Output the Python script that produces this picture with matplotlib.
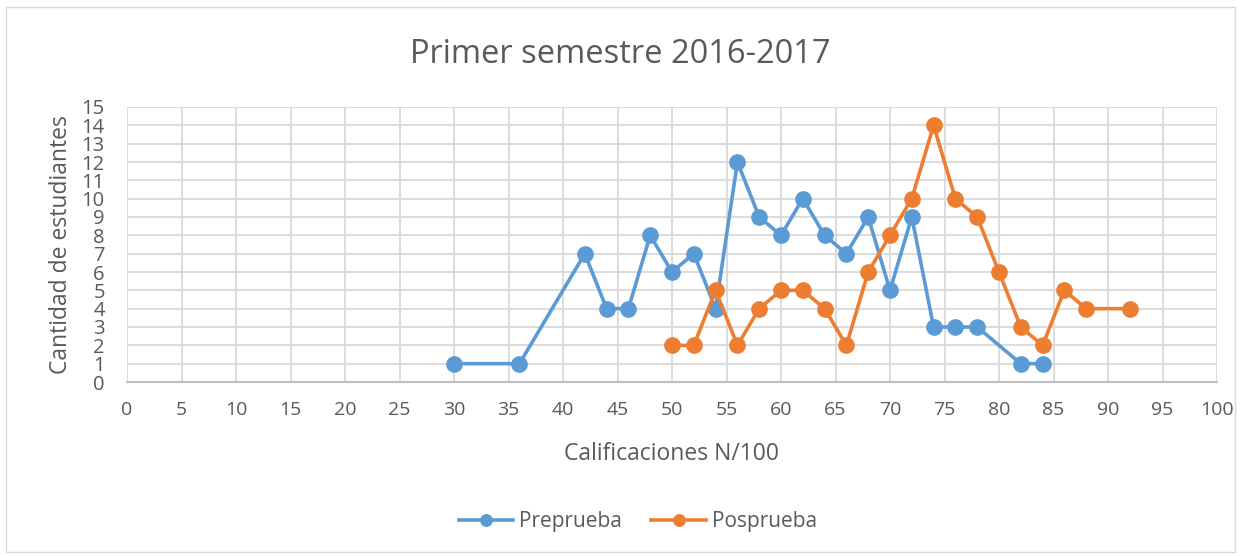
import matplotlib
matplotlib.use("Agg")
import matplotlib.pyplot as plt
from matplotlib.patches import Rectangle

plt.rcParams["font.family"] = ["Open Sans", "DejaVu Sans"]

# data
pre_x = [30, 36, 42, 44, 46, 48, 50, 52, 54, 56, 58, 60, 62, 64, 66, 68, 70, 72, 74, 76, 78, 82, 84]
pre_y = [1, 1, 7, 4, 4, 8, 6, 7, 4, 12, 9, 8, 10, 8, 7, 9, 5, 9, 3, 3, 3, 1, 1]
pos_x = [50, 52, 54, 56, 58, 60, 62, 64, 66, 68, 70, 72, 74, 76, 78, 80, 82, 84, 86, 88, 92]
pos_y = [2, 2, 5, 2, 4, 5, 5, 4, 2, 6, 8, 10, 14, 10, 9, 6, 3, 2, 5, 4, 4]

BLUE = "#5b9bd5"
ORANGE = "#ed7d31"
TXT = "#595959"
GRID = "#d9d9d9"

fig = plt.figure(figsize=(12.41, 5.56), dpi=100)
fig.patches.append(Rectangle((6 / 1241, 4 / 556), 1 - 12 / 1241, 1 - 11 / 556,
                             transform=fig.transFigure, fill=False,
                             edgecolor="#d9d9d9", linewidth=1))
ax = fig.add_axes([127 / 1241, 1 - 382 / 556, 1090 / 1241, 275 / 556])

ax.plot(pre_x, pre_y, color=BLUE, lw=2.6, marker="o", ms=11, label="Preprueba", zorder=3)
ax.plot(pos_x, pos_y, color=ORANGE, lw=2.6, marker="o", ms=11, label="Posprueba", zorder=4)

ax.set_xlim(0, 100)
ax.set_ylim(0, 15)
ax.set_xticks(range(0, 101, 5))
ax.set_yticks(range(0, 16))
ax.grid(True, color=GRID, lw=1.3)
ax.set_axisbelow(True)
for s in ["top", "right", "left"]:
    ax.spines[s].set_visible(False)
ax.spines["bottom"].set_color("#bfbfbf")
ax.spines["bottom"].set_linewidth(1.5)
ax.tick_params(length=0, colors=TXT)
ax.tick_params(axis="x", pad=14, labelsize=14)
ax.tick_params(axis="y", pad=16, labelsize=14.5)

ax.set_xlabel("Calificaciones N/100", fontsize=16.5, color=TXT, labelpad=16)
ax.set_ylabel("Cantidad de estudiantes", fontsize=16.5, color=TXT, labelpad=6)
fig.text(0.5, 1 - 54 / 556, "Primer semestre 2016-2017", ha="center", va="center",
         fontsize=23.5, color=TXT)

fig.legend(loc="center", bbox_to_anchor=(638 / 1241, 1 - 522 / 556), ncol=2,
           frameon=False, fontsize=15, labelcolor=TXT, handlelength=2.6,
           columnspacing=1.4, handletextpad=0.3, markerscale=0.75)

fig.savefig("out.png", dpi=100)
